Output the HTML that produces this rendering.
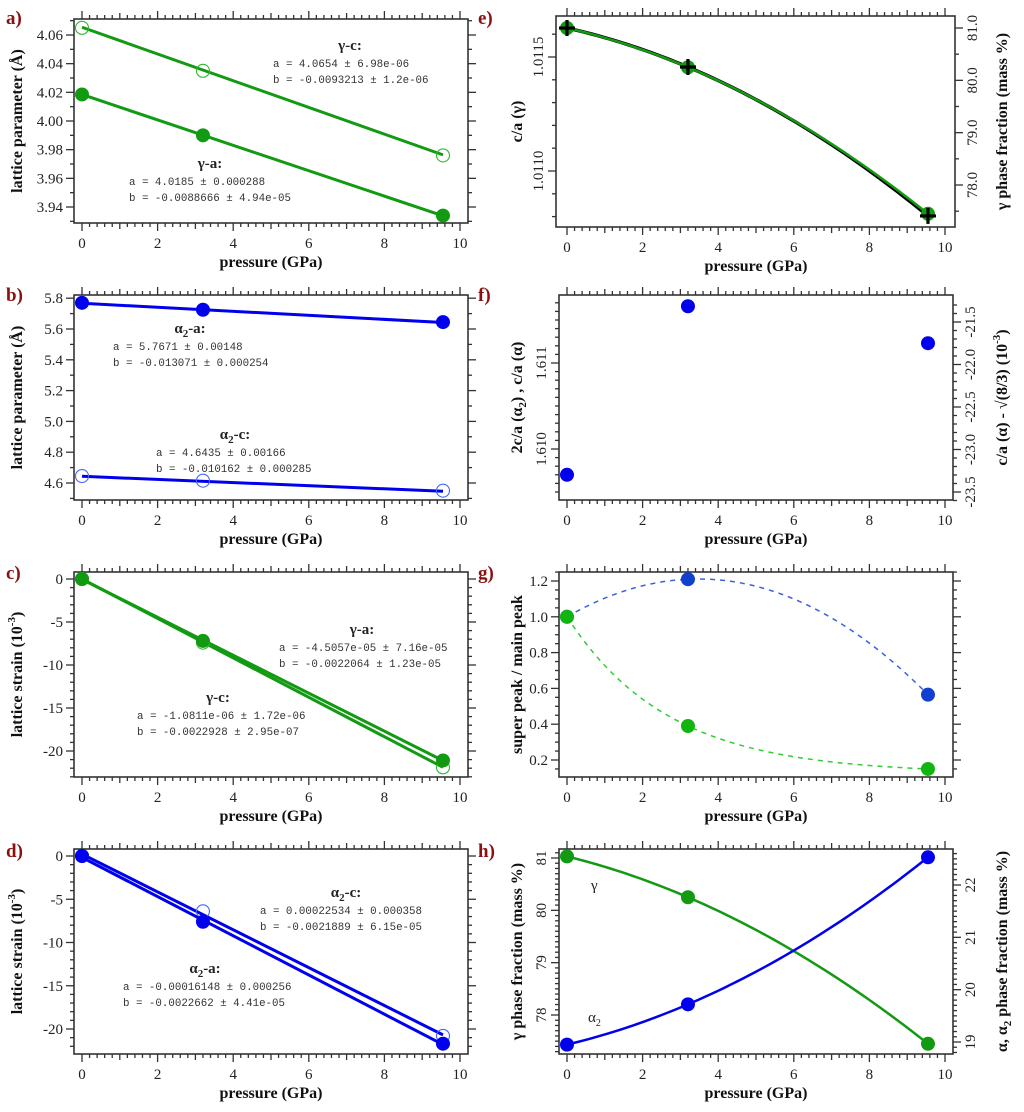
<!DOCTYPE html>
<html><head><meta charset="utf-8">
<style>
html,body{margin:0;padding:0;background:#fff;}
svg{display:block;font-family:"Liberation Serif",serif;}
.tk{font-size:15px;fill:#222;}
.ttl{font-size:16px;font-weight:bold;fill:#111;}
.fit{font-family:"Liberation Mono",monospace;font-size:10.8px;fill:#333;}
.lbl{font-size:15px;font-weight:bold;fill:#222;}
.pl{font-size:19px;font-weight:bold;fill:#8b1010;}
</style></head><body>
<svg id="fig" width="1024" height="1112" viewBox="0 0 1024 1112" xmlns="http://www.w3.org/2000/svg"></svg>
<script>
// ---- data ----
const pressure = [0, 3.2, 9.55];
const xTicks = [0, 2, 4, 6, 8, 10];
// a)
const gammaC_lat = [4.065, 4.035, 3.976];
const gammaA_lat = [4.0185, 3.990, 3.934];
const fitGammaC_lat = [4.0654, -0.0093213];
const fitGammaA_lat = [4.0185, -0.0088666];
// b)
const alphaA_lat = [5.77, 5.725, 5.645];
const alphaC_lat = [4.645, 4.615, 4.55];
const fitAlphaA_lat = [5.7671, -0.013071];
const fitAlphaC_lat = [4.6435, -0.010162];
// c)
const gammaA_strain = [0, -7.2, -21.1];
const gammaC_strain = [0, -7.4, -21.9];
const fitGammaA_strain = [-0.045057, -2.2064];
const fitGammaC_strain = [-0.0010811, -2.2928];
// d)
const alphaA_strain = [0, -7.6, -21.7];
const alphaC_strain = [0, -6.4, -20.8];
const fitAlphaA_strain = [-0.16148, -2.2662];
const fitAlphaC_strain = [0.22534, -2.1889];
// e)
const caGamma = [1.011627, 1.011456, 1.010803];
const gammaFrac_e = [81.0, 80.25, 77.45];
// f)
const caAlpha = [1.6097, 1.61166, 1.61123];
// g)
const superBlue = [1.0, 1.21, 0.565];
const superGreen = [1.0, 0.39, 0.15];
// h)
const gammaFrac = [81.03, 80.25, 77.45];
const alphaFrac = [18.95, 19.72, 22.53];

const svg = document.getElementById('fig');
const NS = 'http://www.w3.org/2000/svg';
function mk(tag, attrs, parent, text){
  const e = document.createElementNS(NS, tag);
  for (const k in attrs) e.setAttribute(k, attrs[k]);
  if (text !== undefined) e.textContent = text;
  (parent || svg).appendChild(e);
  return e;
}
function lin(v0, p0, v1, p1){ return v => p0 + (v - v0) * (p1 - p0) / (v1 - v0); }
function quad(xs, ys){
  return x => {
    let s = 0;
    for (let i = 0; i < 3; i++){
      let t = ys[i];
      for (let j = 0; j < 3; j++) if (j !== i) t *= (x - xs[j]) / (xs[i] - xs[j]);
      s += t;
    }
    return s;
  };
}
// monotone decay shape: a + b*exp(-k x) fitted through 3 points (bisection on k)
function expfit(xs, ys){
  const r = k => (ys[1]-ys[0])/(ys[2]-ys[0]) - (Math.exp(-k*xs[1])-1)/(Math.exp(-k*xs[2])-1);
  let lo = 1e-4, hi = 5;
  for (let i = 0; i < 80; i++){ const m = (lo+hi)/2; if (r(lo)*r(m) <= 0) hi = m; else lo = m; }
  const k = (lo+hi)/2;
  const b = (ys[2]-ys[0])/(Math.exp(-k*xs[2])-1), a = ys[0]-b;
  return x => a + b*Math.exp(-k*x);
}
const fmt = (v, d) => v.toFixed(d);

function panel(o){
  const g = mk('g', {});
  
  
  const X = lin(0, o.xp0, 10, o.xp10);
  const Y = lin(o.yv0, o.yp0, o.yv1, o.yp1);
  const frame = mk('rect', {x:o.fx0, y:o.fy0, width:o.fx1-o.fx0, height:o.fy1-o.fy0, fill:'none', stroke:'#333', 'stroke-width':1.6}, g);
  
  
  for (let i = 0; i <= 50; i++){
    const v = i * 0.2, px = X(v);
    const major = i % 10 === 0, mid = i % 5 === 0;
    const L = major ? 8 : (mid ? 6 : 4);
    mk('line', {x1:px, x2:px, y1:o.fy1, y2:o.fy1+L, stroke:'#333', 'stroke-width':1.3}, g);
    mk('line', {x1:px, x2:px, y1:o.fy0, y2:o.fy0-L, stroke:'#333', 'stroke-width':1.3}, g);
  }
  xTicks.forEach(v => {
    const t = mk('text', {x:X(v), y:o.fy1+25, 'text-anchor':'middle', class:'tk'}, g, String(v));
    
    
  });
  const xt = mk('text', {x:(X(0)+X(10))/2, y:o.fy1+44, 'text-anchor':'middle', class:'ttl'}, g, 'pressure (GPa)');
  
  
  function yticks(Yf, minor, major, lo, hi, side, labels, rot, dec){
    const n = Math.round((hi - lo) / minor);
    for (let i = 0; i <= n; i++){
      const v = lo + i * minor, py = Yf(v);
      if (py < o.fy0 - 0.5 || py > o.fy1 + 0.5) continue;
      const isMaj = Math.abs(v / major - Math.round(v / major)) < 1e-6;
      const L = isMaj ? 8 : 4;
      const xb = side === 'L' ? o.fx0 : o.fx1;
      mk('line', {x1:xb, x2:side === 'L' ? xb-L : xb+L, y1:py, y2:py, stroke:'#333', 'stroke-width':1.3}, g);
      if (isMaj && labels){
        let t;
        if (rot){
          const tx = side === 'L' ? o.fx0-13 : o.fx1+22;
          t = mk('text', {x:tx, y:py, 'text-anchor':'middle', class:'tk', transform:`rotate(-90 ${tx} ${py})`}, g, fmt(v, dec));
        } else {
          t = mk('text', {x:side === 'L' ? o.fx0-11 : o.fx1+11, y:py+5, 'text-anchor':side === 'L' ? 'end' : 'start', class:'tk'}, g, fmt(v, dec));
        }
        
        
      }
    }
  }
  yticks(Y, o.ly.minor, o.ly.major, o.ly.lo, o.ly.hi, 'L', true, o.ly.rot, o.ly.dec);
  let Y2 = null;
  if (o.ry){
    Y2 = lin(o.ry.v0, o.ry.p0, o.ry.v1, o.ry.p1);
    yticks(Y2, o.ry.minor, o.ry.major, o.ry.lo, o.ry.hi, 'R', o.ry.labels, true, o.ry.dec);
  } else {
    yticks(Y, o.ly.minor, o.ly.major, o.ly.lo, o.ly.hi, 'R', false, false, 0);
  }
  const tx = o.ytx, ty = (o.fy0 + o.fy1) / 2;
  const yt = mk('text', {x:tx, y:ty, 'text-anchor':'middle', class:'ttl', transform:`rotate(-90 ${tx} ${ty})`}, g);
  yt.innerHTML = o.ytitle;
  
  
  if (o.ytitle2){
    const tx2 = o.ytx2;
    const yt2 = mk('text', {x:tx2, y:ty, 'text-anchor':'middle', class:'ttl', transform:`rotate(-90 ${tx2} ${ty})`}, g);
    yt2.innerHTML = o.ytitle2;
    
    
  }
  const pl = mk('text', {x:o.plx, y:o.ply, class:'pl'}, g, o.letter);
  
  
  return {g, X, Y, Y2};
}

function fitLine(P, fit, Yf, color, name){
  const f = v => fit[0] + fit[1] * v;
  const l = mk('line', {x1:P.X(0), y1:Yf(f(0)), x2:P.X(pressure[2]), y2:Yf(f(pressure[2])), stroke:color, 'stroke-width':3}, P.g);
  
  
}
function curve(P, vals, Yf, color, name, width, dash, interp){
  const q = (interp || quad)(pressure, vals);
  let d = '';
  for (let i = 0; i <= 60; i++){
    const v = pressure[2] * i / 60;
    d += (i ? 'L' : 'M') + P.X(v).toFixed(2) + ',' + Yf(q(v)).toFixed(2);
  }
  const p = mk('path', {d, fill:'none', stroke:color, 'stroke-width':width, 'stroke-dasharray':dash || 'none'}, P.g);
  
  
}
function markers(P, vals, Yf, color, filled, name, r){
  vals.forEach((v, i) => {
    const c = mk('circle', {cx:P.X(pressure[i]), cy:Yf(v), r:r || 6.5, fill:filled ? color : 'none', stroke:color, 'stroke-width':filled ? 1 : 1.1}, P.g);
    
    
  });
}
function crosses(P, vals, Yf, name){
  vals.forEach((v, i) => {
    const x = P.X(pressure[i]), y = Yf(v);
    const c = mk('path', {d:`M${x-8},${y}H${x+8}M${x},${y-8}V${y+8}`, stroke:'#000', 'stroke-width':3.2, fill:'none'}, P.g);
    
    
  });
}
function fitText(P, title, cx, ty, l1, l2, lx){
  const t = mk('text', {x:cx, y:ty, 'text-anchor':'middle', class:'lbl'}, P.g);
  t.innerHTML = title;
  
  
  const a = mk('text', {x:lx, y:ty+17, class:'fit', 'xml:space':'preserve'}, P.g, l1);
  
  
  const b = mk('text', {x:lx, y:ty+33, class:'fit', 'xml:space':'preserve'}, P.g, l2);
  
  
}
const GREEN = '#139a13', GOPEN = '#33b833', BLUE = '#0000ee', BOPEN = '#4466ff';
const A2 = 'α<tspan font-size="11" dy="4">2</tspan><tspan dy="-4">';
const L = {fx0:74, fx1:468, xp0:82, xp10:460, ytx:22, plx:6};
const R = {fx0:559, fx1:953, xp0:567, xp10:945, ytx:522, plx:478};

// a
let P = panel(Object.assign({}, L, {name:'panel-a', letter:'a)', ply:24, fy0:19, fy1:223, yv0:4.06, yp0:35, yv1:3.94, yp1:207,
  ly:{minor:0.01, major:0.02, lo:3.92, hi:4.08, dec:2}, ytitle:'lattice parameter (Å)'}));
fitLine(P, fitGammaC_lat, P.Y, GREEN, 'fit-gamma-c');
fitLine(P, fitGammaA_lat, P.Y, GREEN, 'fit-gamma-a');
markers(P, gammaC_lat, P.Y, GOPEN, false, 'point-gamma-c');
markers(P, gammaA_lat, P.Y, GREEN, true, 'point-gamma-a');
fitText(P, 'γ-c:', 350, 50, 'a =  4.0654 ± 6.98e-06', 'b = -0.0093213 ± 1.2e-06', 273);
fitText(P, 'γ-a:', 210, 168, 'a =  4.0185 ± 0.000288', 'b = -0.0088666 ± 4.94e-05', 129);

// b
P = panel(Object.assign({}, L, {name:'panel-b', letter:'b)', ply:301, fy0:295, fy1:500, yv0:5.6, yp0:329, yv1:4.6, yp1:483,
  ly:{minor:0.1, major:0.2, lo:4.4, hi:5.9, dec:1}, ytitle:'lattice parameter (Å)'}));
fitLine(P, fitAlphaA_lat, P.Y, BLUE, 'fit-alpha2-a');
fitLine(P, fitAlphaC_lat, P.Y, BLUE, 'fit-alpha2-c');
markers(P, alphaA_lat, P.Y, BLUE, true, 'point-alpha2-a');
markers(P, alphaC_lat, P.Y, BOPEN, false, 'point-alpha2-c');
fitText(P, A2 + '-a:</tspan>', 190, 333, 'a =  5.7671 ± 0.00148', 'b = -0.013071 ± 0.000254', 113);
fitText(P, A2 + '-c:</tspan>', 235, 439, 'a =  4.6435 ± 0.00166', 'b = -0.010162 ± 0.000285', 156);

// c
P = panel(Object.assign({}, L, {name:'panel-c', letter:'c)', ply:579, fy0:572, fy1:777, yv0:0, yp0:579, yv1:-20, yp1:751,
  ly:{minor:1, major:5, lo:-23, hi:1, dec:0}, ytitle:'lattice strain (10<tspan font-size="11" dy="-7">-3</tspan><tspan dy="7">)</tspan>'}));
fitLine(P, fitGammaC_strain, P.Y, GREEN, 'fit-gamma-c');
fitLine(P, fitGammaA_strain, P.Y, GREEN, 'fit-gamma-a');
markers(P, gammaC_strain, P.Y, GOPEN, false, 'point-gamma-c');
markers(P, gammaA_strain, P.Y, GREEN, true, 'point-gamma-a');
fitText(P, 'γ-a:', 362, 634, 'a = -4.5057e-05 ± 7.16e-05', 'b = -0.0022064 ± 1.23e-05', 279);
fitText(P, 'γ-c:', 218, 702, 'a = -1.0811e-06 ± 1.72e-06', 'b = -0.0022928 ± 2.95e-07', 137);

// d
P = panel(Object.assign({}, L, {name:'panel-d', letter:'d)', ply:857, fy0:849, fy1:1054, yv0:0, yp0:856, yv1:-20, yp1:1029,
  ly:{minor:1, major:5, lo:-23, hi:1, dec:0}, ytitle:'lattice strain (10<tspan font-size="11" dy="-7">-3</tspan><tspan dy="7">)</tspan>'}));
fitLine(P, fitAlphaC_strain, P.Y, BLUE, 'fit-alpha2-c');
fitLine(P, fitAlphaA_strain, P.Y, BLUE, 'fit-alpha2-a');
markers(P, alphaC_strain, P.Y, BOPEN, false, 'point-alpha2-c');
markers(P, alphaA_strain, P.Y, BLUE, true, 'point-alpha2-a');
fitText(P, A2 + '-c:</tspan>', 346, 897, 'a =  0.00022534 ± 0.000358', 'b = -0.0021889 ± 6.15e-05', 260);
fitText(P, A2 + '-a:</tspan>', 205, 973, 'a = -0.00016148 ± 0.000256', 'b = -0.0022662 ± 4.41e-05', 123);

// e
P = panel(Object.assign({}, R, {name:'panel-e', letter:'e)', ply:24, fx0:556, fx1:955, fy0:16, fy1:227, yv0:1.0115, yp0:57, yv1:1.0110, yp1:171,
  ly:{minor:0.0001, major:0.0005, lo:1.0106, hi:1.0118, dec:4, rot:true}, ytitle:'c/a (γ)',
  ry:{v0:81, p0:28, v1:78, p1:185, minor:0.5, major:1, lo:77, hi:81.5, dec:1, labels:true},
  ytitle2:'γ phase fraction (mass %)', ytx2:1007}));
curve(P, caGamma, P.Y, '#000', 'ca-gamma-curve', 3.5);
curve(P, gammaFrac_e, P.Y2, GREEN, 'gamma-fraction-curve', 2.5);
markers(P, gammaFrac_e, P.Y2, GREEN, true, 'point-gamma-fraction');
crosses(P, caGamma, P.Y, 'point-ca-gamma');

// f
P = panel(Object.assign({}, R, {name:'panel-f', letter:'f)', ply:301, fy0:295, fy1:500, yv0:1.611, yp0:363, yv1:1.610, yp1:449,
  ly:{minor:0.0001, major:0.001, lo:1.6094, hi:1.6118, dec:3, rot:true}, ytitle:'2c/a (α<tspan font-size="11" dy="4">2</tspan><tspan dy="-4">) , c/a (α)</tspan>',
  ry:{v0:-21.5, p0:322, v1:-23.5, p1:492, minor:0.1, major:0.5, lo:-23.7, hi:-21.3, dec:1, labels:true},
  ytitle2:'c/a (α)  - √(8/3) (10<tspan font-size="11" dy="-7">-3</tspan><tspan dy="7">)</tspan>', ytx2:1007}));
markers(P, caAlpha, P.Y, BLUE, true, 'point-ca-alpha', 6.5);

// g
P = panel(Object.assign({}, R, {name:'panel-g', letter:'g)', ply:579, fy0:572, fy1:777, yv0:1.2, yp0:581, yv1:0.2, yp1:760,
  ly:{minor:0.05, major:0.2, lo:0.1, hi:1.3, dec:1}, ytitle:'super peak / main peak'}));
curve(P, superBlue, P.Y, '#3a62e0', 'super-peak-blue-curve', 1.5, '5,5');
curve(P, superGreen, P.Y, '#33cc33', 'super-peak-green-curve', 1.5, '5,5', expfit);
markers(P, superBlue, P.Y, '#1040d0', true, 'point-super-blue');
markers(P, superGreen, P.Y, '#10b510', true, 'point-super-green');

// h
P = panel(Object.assign({}, R, {name:'panel-h', letter:'h)', ply:857, fy0:849, fy1:1054, yv0:81, yp0:858, yv1:78, yp1:1015,
  ly:{minor:0.1, major:1, lo:77.2, hi:81.3, dec:0, rot:true}, ytitle:'γ phase fraction (mass %)',
  ry:{v0:22, p0:885, v1:19, p1:1042, minor:0.1, major:1, lo:18.8, hi:22.9, dec:0, labels:true},
  ytitle2:'α, α<tspan font-size="11" dy="4">2</tspan><tspan dy="-4"> phase fraction (mass %)</tspan>', ytx2:1007}));
curve(P, gammaFrac, P.Y, GREEN, 'gamma-fraction-curve', 2.5);
curve(P, alphaFrac, P.Y2, BLUE, 'alpha-fraction-curve', 2.5);
markers(P, gammaFrac, P.Y, GREEN, true, 'point-gamma-fraction');
markers(P, alphaFrac, P.Y2, BLUE, true, 'point-alpha-fraction');
let t = mk('text', {x:591, y:890, class:'tk', 'font-size':'16'}, P.g, 'γ');


t = mk('text', {x:588, y:1022, class:'tk'}, P.g);
t.innerHTML = 'α<tspan font-size="10" dy="4">2</tspan>';


</script>
</body></html>
